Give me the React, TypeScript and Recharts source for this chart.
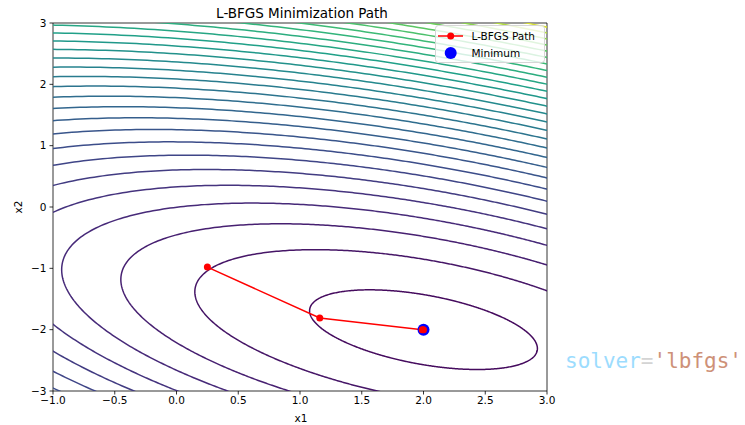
import React from 'react';
import { ComposedChart, Line, XAxis, YAxis, ReferenceArea } from 'recharts';

// quadratic bowl: centre, shape and the contour levels
const bowlCentre = { x: 2, y: -2 };
const bowlShape = { a: 1, b: 1.344, k: 2.015 };
const contourLevels = [
  0.66, 2.66, 4.66, 6.66, 8.66, 10.66, 12.66, 14.66, 16.66, 18.66,
  20.66, 22.66, 24.66, 26.66, 28.66, 30.66, 32.66, 34.66, 36.66, 38.66,
  40.66, 42.66, 44.66, 46.66, 48.66, 50.66, 52.66, 54.66, 56.66,
];

const pathX1 = [0.25, 1.16, 1.99, 2.0];
const pathX2 = [-0.98, -1.81, -2.0, -2.0];
const minimumPoint = [{ x: 2, y: -2 }];

const xTicks = [-1, -0.5, 0, 0.5, 1, 1.5, 2, 2.5, 3];
const yTicks = [-3, -2, -1, 0, 1, 2, 3];

const viridis = [
  '#440154', '#482878', '#3e4989', '#31688e', '#26828e',
  '#1f9e89', '#35b779', '#6ece58', '#fde725',
];

const hexToRgb = (hex: string) => [
  parseInt(hex.slice(1, 3), 16),
  parseInt(hex.slice(3, 5), 16),
  parseInt(hex.slice(5, 7), 16),
];

function viridisAt(t: number) {
  const pos = Math.min(Math.max(t, 0), 1) * (viridis.length - 1);
  const i = Math.min(Math.floor(pos), viridis.length - 2);
  const f = pos - i;
  const c0 = hexToRgb(viridis[i]);
  const c1 = hexToRgb(viridis[i + 1]);
  const c = c0.map((v, j) => Math.round(v + (c1[j] - v) * f));
  return `rgb(${c[0]},${c[1]},${c[2]})`;
}

// trace one level set of the bowl
function contourPoints(level: number) {
  const { a, b, k } = bowlShape;
  const pts: { x: number; y: number }[] = [];
  for (let d = 0; d <= 720; d++) {
    const th = (d / 720) * Math.PI * 2;
    const u = Math.cos(th);
    const v = Math.sin(th);
    const q = a * u * u + b * u * v + k * v * v;
    const r = Math.sqrt(level / q);
    pts.push({ x: bowlCentre.x + r * u, y: bowlCentre.y + r * v });
  }
  return pts;
}

const contours = contourLevels.map((level, i) => ({
  level,
  color: viridisAt((i + 1) / (contourLevels.length + 1)),
  points: contourPoints(level),
}));

const pathData = pathX1.map((x, i) => ({ x, y: pathX2[i] }));

const fmtTick = (digits: number) => (v: number) =>
  (v < 0 ? '\u2212' : '') + Math.abs(v).toFixed(digits);

const font = "'DejaVu Sans', sans-serif";
const tickStyle = { fill: '#000', fontSize: 10.5, fontFamily: font };

export default function App() {
  return (
    <div style={{ position: 'absolute', left: 0, top: 0, width: 745, height: 425, background: '#fff' }}>
      <ComposedChart
        width={745}
        height={425}
        margin={{ top: 23, right: 198, bottom: 0, left: 0 }}
      >
        <XAxis
          type="number"
          dataKey="x"
          domain={[-1, 3]}
          ticks={xTicks}
          allowDataOverflow
          height={34}
          tick={tickStyle}
          tickFormatter={fmtTick(1)}
          tickSize={3.5}
          tickMargin={2}
          axisLine={false}
          tickLine={{ stroke: '#000', strokeWidth: 0.8 }}
        />
        <YAxis
          type="number"
          dataKey="y"
          domain={[-3, 3]}
          ticks={yTicks}
          allowDataOverflow
          width={53}
          tick={tickStyle}
          tickFormatter={fmtTick(0)}
          tickSize={3.5}
          tickMargin={3}
          axisLine={false}
          tickLine={{ stroke: '#000', strokeWidth: 0.8 }}
        />
        {contours.map((c) => (
          <Line
            key={c.level}
            data={c.points}
            dataKey="y"
            type="linear"
            stroke={c.color}
            strokeWidth={1.5}
            dot={false}
            isAnimationActive={false}
          />
        ))}
        <Line
          data={minimumPoint}
          dataKey="y"
          stroke="none"
          dot={{ r: 6, fill: '#0000ff', stroke: 'none' }}
          isAnimationActive={false}
        />
        <Line
          data={pathData}
          dataKey="y"
          type="linear"
          stroke="#ff0000"
          strokeWidth={1.5}
          dot={{ r: 3.5, fill: '#ff0000', stroke: 'none' }}
          isAnimationActive={false}
        />
        <ReferenceArea x1={-1} x2={3} y1={-3} y2={3} fill="none" stroke="#000" strokeWidth={0.8} />
      </ComposedChart>

      <svg
        width={745}
        height={425}
        style={{ position: 'absolute', left: 0, top: 0, pointerEvents: 'none' }}
      >
        <text x={302} y={12.5} textAnchor="middle" dominantBaseline="central" fontFamily={font} fontSize={13.5} fill="#000">
          L-BFGS Minimization Path
        </text>
        <text x={301} y={418} textAnchor="middle" dominantBaseline="central" fontFamily={font} fontSize={10.5} fill="#000">
          x1
        </text>
        <text x={18} y={207} textAnchor="middle" dominantBaseline="central" fontFamily={font} fontSize={10.5} fill="#000" transform="rotate(-90 18 207)">
          x2
        </text>

        <rect x={435.5} y={25.5} width={109} height={37} rx={3} fill="#fff" fillOpacity={0.8} stroke="#d6d6d6" strokeWidth={1} />
        <line x1={438} y1={36} x2={463} y2={36} stroke="#ff0000" strokeWidth={1.5} />
        <circle cx={450.7} cy={36} r={3.5} fill="#ff0000" />
        <text x={471.5} y={36} dominantBaseline="central" fontFamily={font} fontSize={10.5} fill="#000">
          L-BFGS Path
        </text>
        <circle cx={450.7} cy={53} r={6} fill="#0000ff" />
        <text x={471.5} y={53} dominantBaseline="central" fontFamily={font} fontSize={10.5} fill="#000">
          Minimum
        </text>

        <text x={565} y={368} fontFamily="'DejaVu Sans Mono', monospace" fontSize={21}>
          <tspan fill="#9cdcfe">solver</tspan>
          <tspan fill="#d4d4d4">=</tspan>
          <tspan fill="#ce9178">'lbfgs'</tspan>
        </text>
      </svg>
    </div>
  );
}
